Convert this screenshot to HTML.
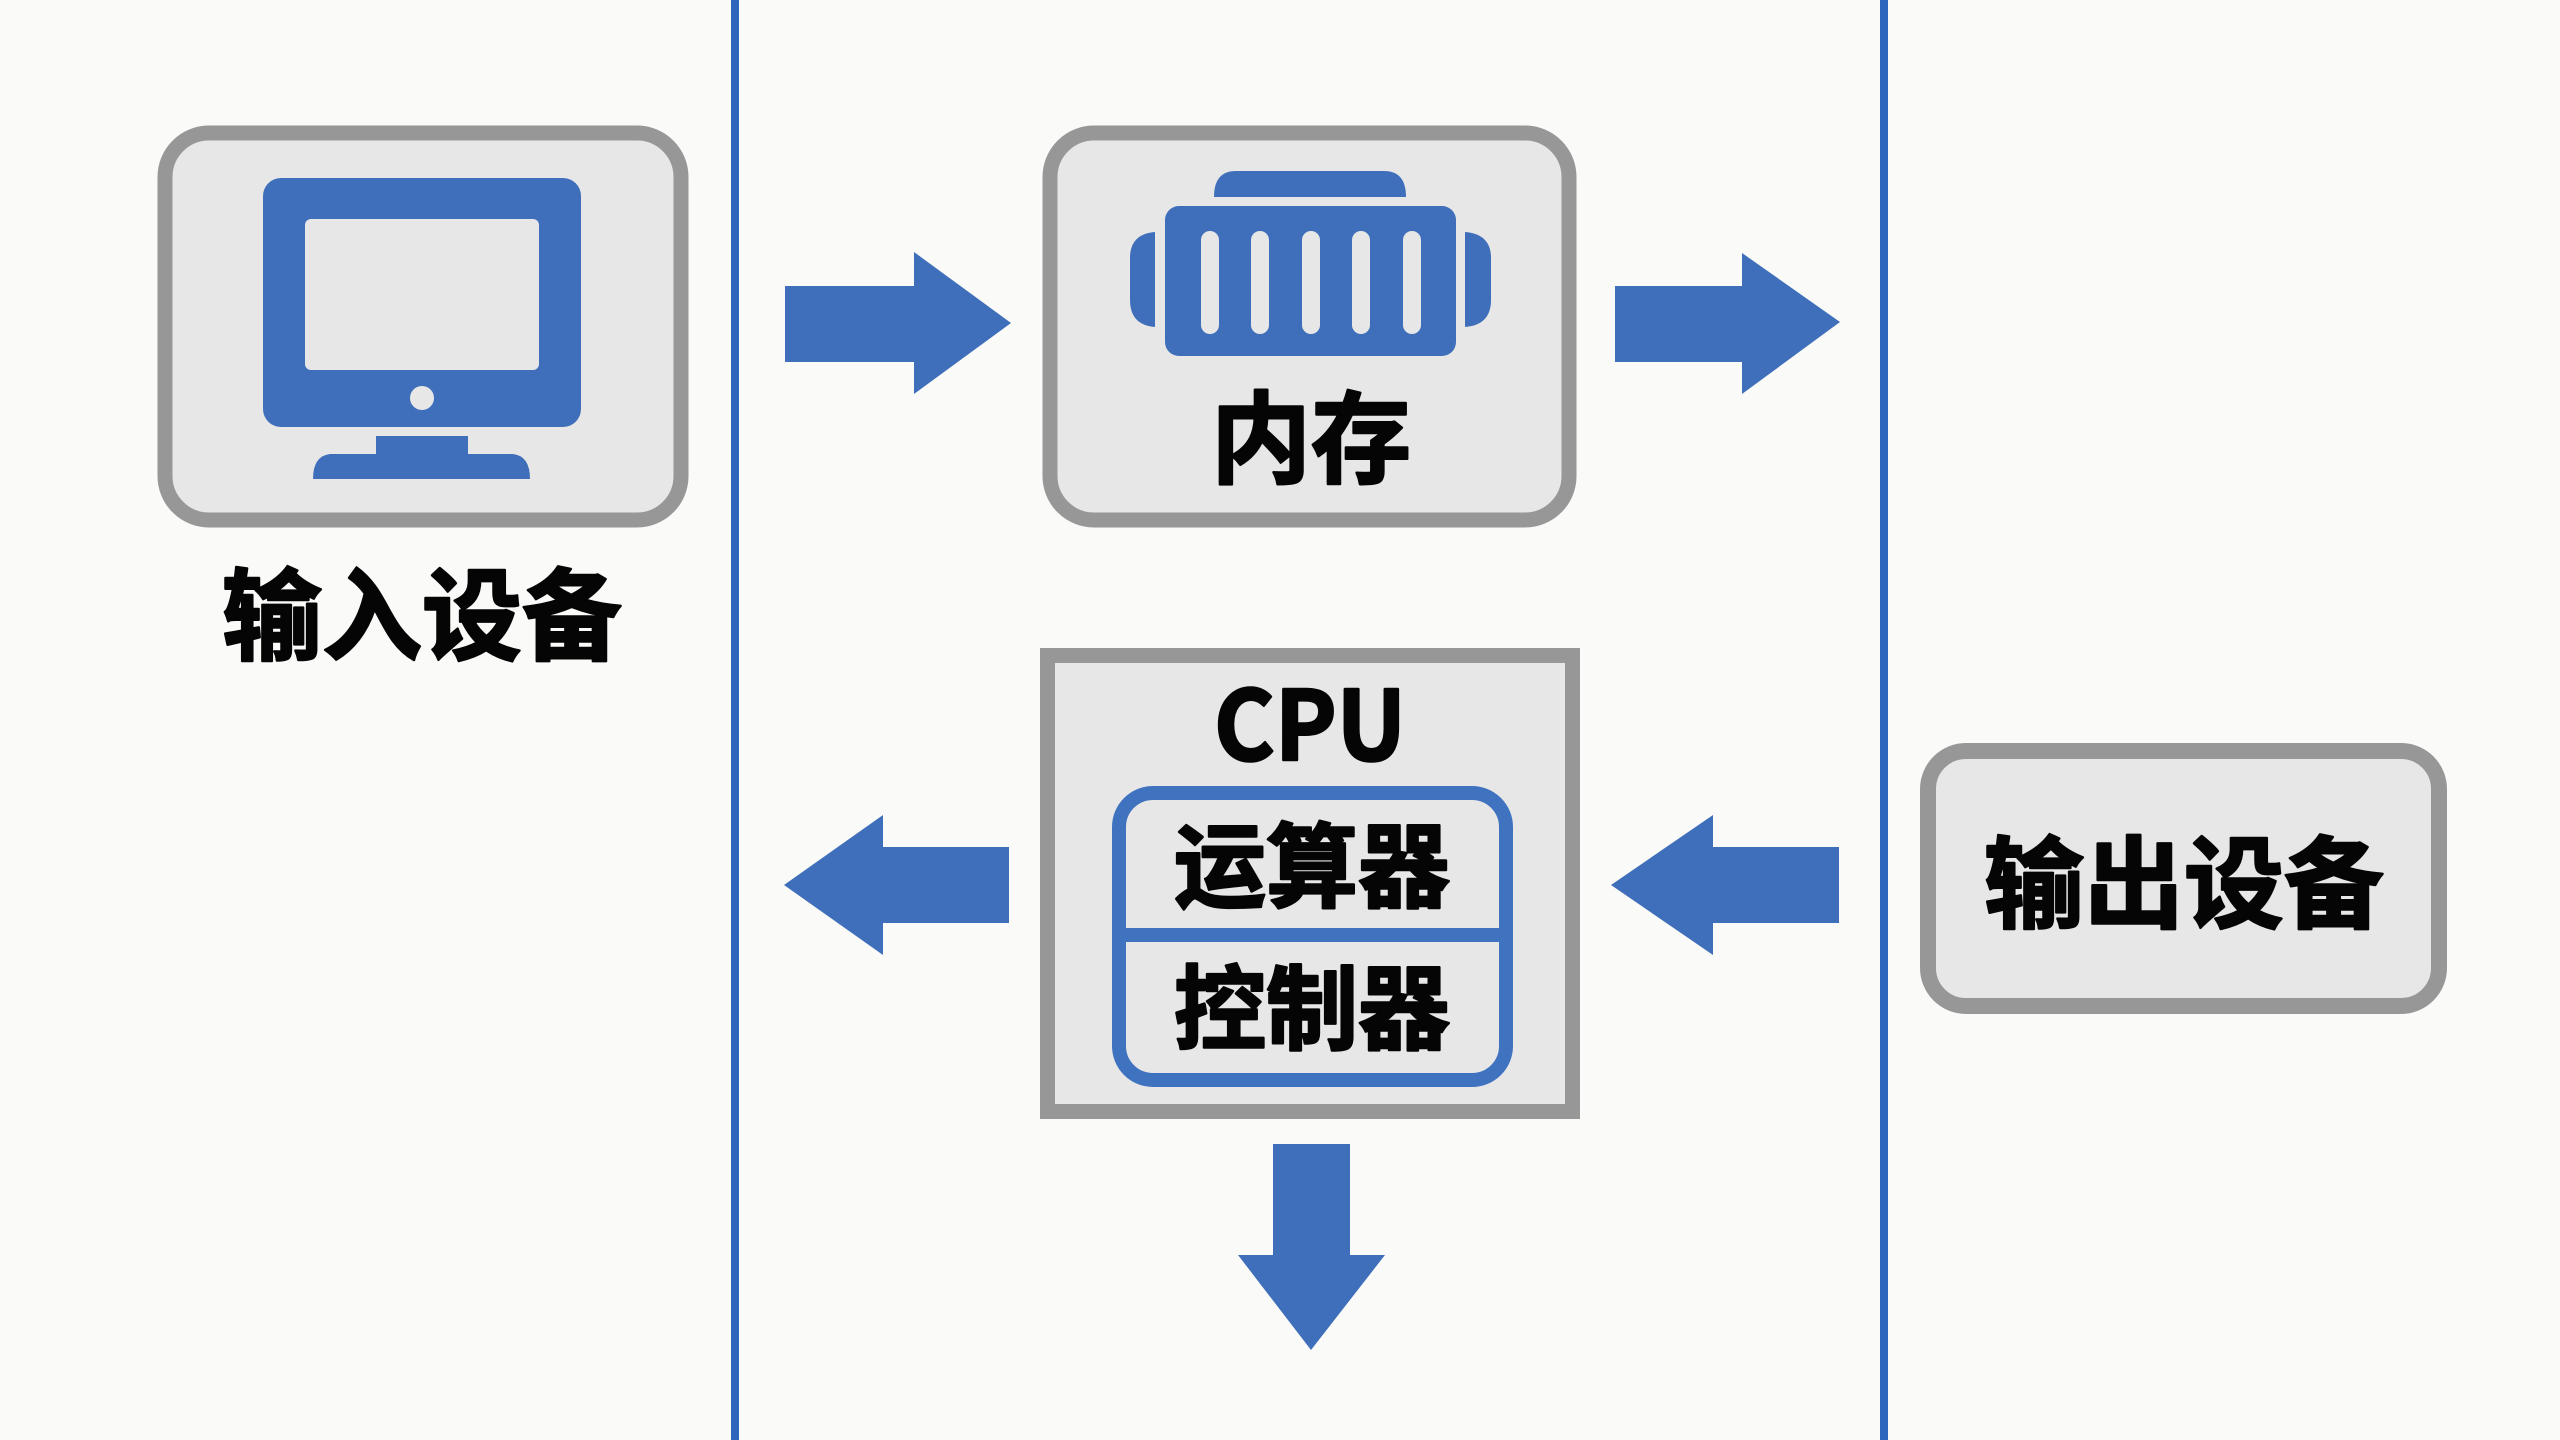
<!DOCTYPE html>
<html><head><meta charset="utf-8"><style>
html,body{margin:0;padding:0;background:#fafaf8;width:2560px;height:1440px;overflow:hidden}
svg{display:block}
text{font-family:"Noto Sans CJK SC",sans-serif;font-weight:700;fill:#050505;stroke:#050505;stroke-width:2.500;stroke-linejoin:round;text-anchor:middle}
</style></head><body>
<svg width="2560" height="1440" viewBox="0 0 2560 1440" xmlns="http://www.w3.org/2000/svg">
<rect width="2560" height="1440" fill="#fafaf8"/>
<rect x="731" y="0" width="8" height="1440" fill="#2f66bd"/>
<rect x="1880" y="0" width="8" height="1440" fill="#2f66bd"/>

<!-- input -->
<rect x="165" y="133" width="516" height="387" rx="44" fill="#e7e7e7" stroke="#979797" stroke-width="15"/>
<rect x="263" y="178" width="318" height="249" rx="18" fill="#3f6fba"/>
<rect x="305" y="219" width="234" height="151" rx="6" fill="#e7e7e7"/>
<circle cx="422" cy="398" r="12" fill="#e7e7e7"/>
<rect x="376" y="436" width="92" height="24" fill="#3f6fba"/>
<path d="M330 454H513Q530 456 530 479H313Q313 456 330 454Z" fill="#3f6fba"/>
<text x="422" y="652" font-size="100">输入设备</text>

<!-- memory -->
<rect x="1050" y="133" width="519" height="387" rx="44" fill="#e7e7e7" stroke="#979797" stroke-width="15"/>
<path d="M1214 197Q1214 171 1236 171H1384Q1406 171 1406 197Z" fill="#3f6fba"/>
<rect x="1165" y="206" width="291" height="150" rx="14" fill="#3f6fba"/>
<g fill="#e7e7e7">
<rect x="1201" y="231" width="18" height="103" rx="9"/>
<rect x="1251" y="231" width="18" height="103" rx="9"/>
<rect x="1302" y="231" width="18" height="103" rx="9"/>
<rect x="1352" y="231" width="18" height="103" rx="9"/>
<rect x="1403" y="231" width="18" height="103" rx="9"/>
</g>
<path d="M1155 232V327Q1130 325 1130 300V258Q1130 234 1155 232Z" fill="#3f6fba"/>
<path d="M1465 232V327Q1491 325 1491 300V258Q1491 234 1465 232Z" fill="#3f6fba"/>
<text x="1311" y="475" font-size="100">内存</text>

<!-- cpu -->
<rect x="1047.500" y="655.500" width="525" height="456" fill="#e7e7e7" stroke="#979797" stroke-width="15"/>
<text x="1310" y="760" font-size="96" textLength="192" lengthAdjust="spacingAndGlyphs">CPU</text>
<rect x="1119" y="793" width="387" height="287" rx="34" fill="#e7e7e7" stroke="#3f72bf" stroke-width="14"/>
<rect x="1119" y="928" width="387" height="14" fill="#3f72bf"/>
<text x="1312" y="900" font-size="92">运算器</text>
<text x="1312" y="1042" font-size="92">控制器</text>

<!-- output -->
<rect x="1928" y="751" width="511" height="255" rx="38" fill="#e7e7e7" stroke="#979797" stroke-width="16"/>
<text x="2184" y="920" font-size="100">输出设备</text>

<!-- arrows -->
<g fill="#3f6fba">
<polygon points="785,286 914,286 914,252 1011,323 914,394 914,362 785,362"/>
<polygon points="1615,286 1742,286 1742,253 1840,322 1742,394 1742,362 1615,362"/>
<polygon points="1009,847 883,847 883,815 784,885 883,955 883,923 1009,923"/>
<polygon points="1839,847 1713,847 1713,815 1611,885 1713,955 1713,923 1839,923"/>
<polygon points="1273,1144 1350,1144 1350,1255 1385,1255 1311,1350 1238,1255 1273,1255"/>
</g>
</svg>
</body></html>
